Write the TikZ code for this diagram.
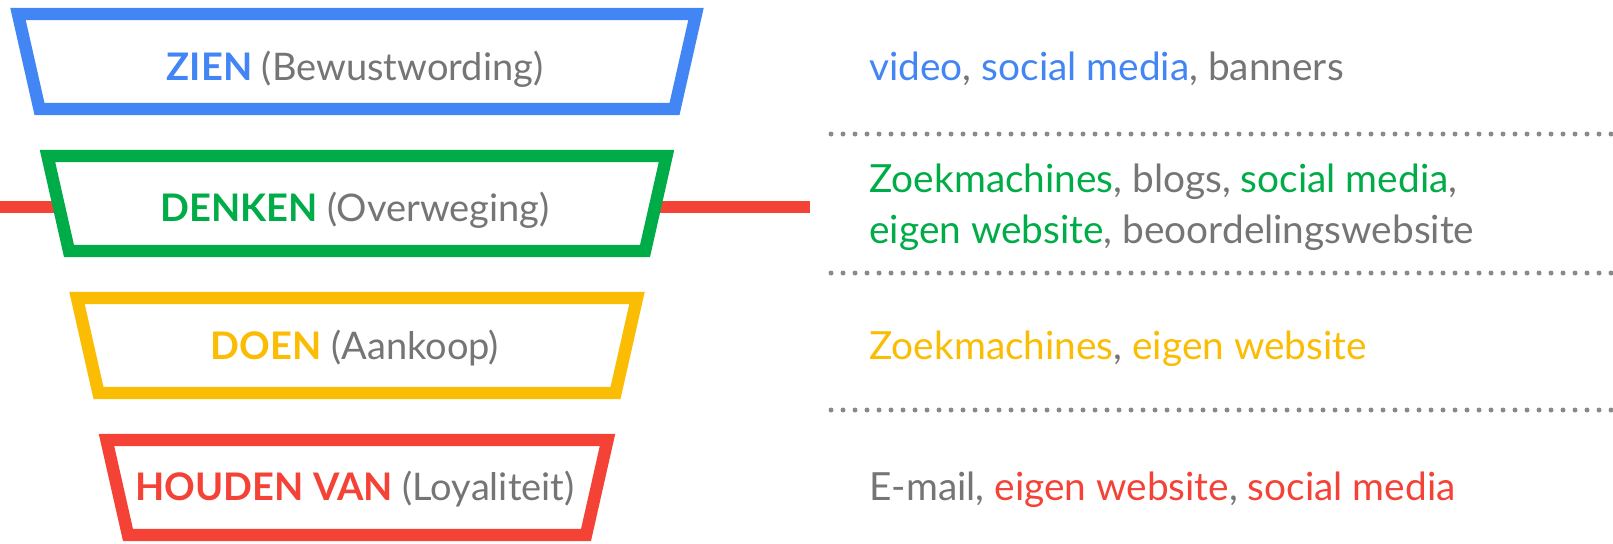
\documentclass[tikz,border=0pt]{standalone}
\usepackage{fontspec}
\setmainfont{Lato}
\usepackage{xcolor}
\usetikzlibrary{calc}

\definecolor{fgblue}{HTML}{4285F4}
\definecolor{fggreen}{HTML}{00AC47}
\definecolor{fgyellow}{HTML}{FBBC04}
\definecolor{fgred}{HTML}{F44336}
\definecolor{tgray}{HTML}{757575}
\definecolor{dotgray}{HTML}{8A8A8A}

\tikzset{
  trap/.style={line width=6.2pt, line join=miter, fill=white},
  lvl/.style={anchor=base, inner sep=0pt, text=tgray, font=\fontsize{19}{22}\selectfont},
  channel/.style={anchor=base west, inner sep=0pt, text=tgray, font=\fontsize{19.4}{22}\selectfont},
  dots/.style={line width=2.5pt, line cap=round, dash pattern=on 0pt off 6pt, draw=dotgray}
}

\begin{document}
\begin{tikzpicture}[x=0.5pt, y=-0.5pt]
    \useasboundingbox (0,0) rectangle (1613,543);

    \coordinate (redL) at (0,207);
    \coordinate (redR) at (810,207);
    \draw[line width=5.8pt, fgred] (redL) -- (redR);

    \foreach \i/\col in {0/fgblue,1/fggreen,2/fgyellow,3/fgred} {
        \pgfmathsetmacro\yt{14+142*\i}
        \pgfmathsetmacro\yb{\yt+95}
        \pgfmathsetmacro\wt{339-29.5*\i}
        \pgfmathsetmacro\wb{\wt-21.5}
        \draw[trap, draw=\col] (357-\wt,\yt) -- (357+\wt,\yt) -- (357+\wb,\yb) -- (357-\wb,\yb) -- cycle;
    }

    \node[lvl] (zien)   at (355,80)  {\textcolor{fgblue}{\bfseries ZIEN} (Bewustwording)};
    \node[lvl] (denken) at (355,221) {\textcolor{fggreen}{\bfseries DENKEN} (Overweging)};
    \node[lvl] (doen)   at (355,359) {\textcolor{fgyellow}{\bfseries DOEN} (Aankoop)};
    \node[lvl] (houden) at (355,500) {\textcolor{fgred}{\bfseries HOUDEN VAN} (Loyaliteit)};

    \foreach \y [count=\k] in {134,273,410} {
        \coordinate (d\k a) at (831,\y);
        \coordinate (d\k b) at (1613,\y);
        \draw[dots] (d\k a) -- (d\k b);
    }

    \node[channel] (zienc)    at (869,80)  {\textcolor{fgblue}{video}, \textcolor{fgblue}{social media}, banners};
    \node[channel] (denkenc)  at (869,192) {\textcolor{fggreen}{Zoekmachines}, blogs, \textcolor{fggreen}{social media},};
    \node[channel] (denkenc2) at (869,243) {\textcolor{fggreen}{eigen website}, beoordelingswebsite};
    \node[channel] (doenc)    at (869,359) {\textcolor{fgyellow}{Zoekmachines}, \textcolor{fgyellow}{eigen website}};
    \node[channel] (houdenc)  at (869,500) {E-mail, \textcolor{fgred}{eigen website}, \textcolor{fgred}{social media}};
\end{tikzpicture}
\end{document}
